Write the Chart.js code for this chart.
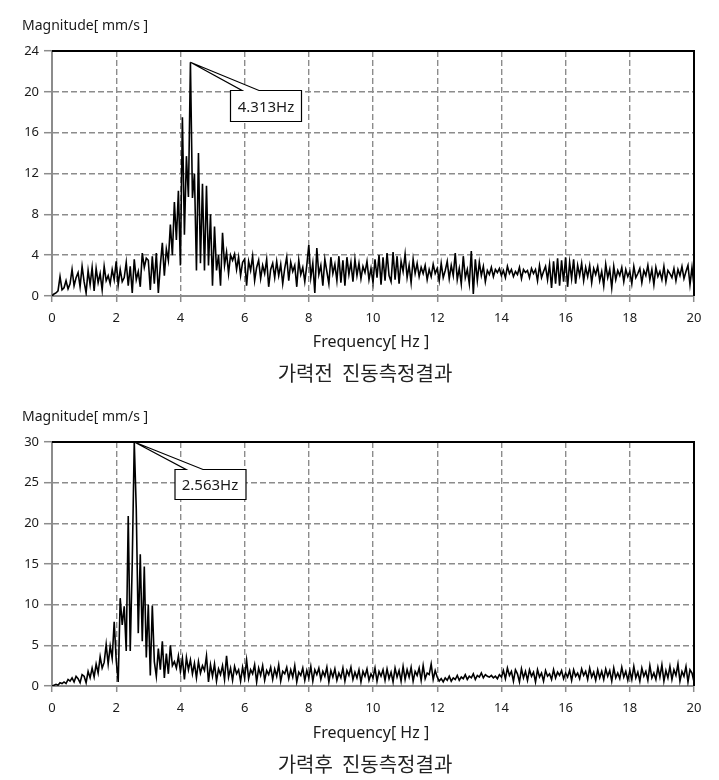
<!DOCTYPE html>
<html>
<head>
<meta charset="utf-8">
<script src="https://cdn.jsdelivr.net/npm/chart.js@4.4.1/dist/chart.umd.min.js"></script>
<style>
  html,body{margin:0;padding:0;background:#fff;}
  #wrap{position:relative;width:719px;height:780px;overflow:hidden;}
  canvas{position:absolute;left:0;}
  .t{position:absolute;white-space:nowrap;color:#1a1a1a;font-family:"Noto Sans","Open Sans",sans-serif;line-height:1;}
  .mag{font-size:14px;transform:translateY(-50%);}
  .freq{font-size:16px;transform:translate(-50%,-50%);}
  .cap{font-family:"Noto Sans CJK KR","Noto Sans",sans-serif;font-size:20px;transform:translate(-50%,-50%);color:#222;}
  .call{font-size:15px;transform:translate(-50%,-50%);}
</style>
</head>
<body>
<div id="wrap">
  <canvas id="c1" width="719" height="390" style="top:0"></canvas>
  <canvas id="c2" width="719" height="390" style="top:390px"></canvas>
  <div class="t mag" style="left:22px;top:25px">Magnitude[ mm/s ]</div>
  <div class="t freq" style="left:371px;top:341px">Frequency[ Hz ]</div>
  <div class="t cap" style="left:365px;top:373px">가력전&nbsp; 진동측정결과</div>
  <div class="t call" style="left:266px;top:106px">4.313Hz</div>
  <div class="t mag" style="left:22px;top:416px">Magnitude[ mm/s ]</div>
  <div class="t freq" style="left:371px;top:732px">Frequency[ Hz ]</div>
  <div class="t cap" style="left:365px;top:764px">가력후&nbsp; 진동측정결과</div>
  <div class="t call" style="left:210px;top:484px">2.563Hz</div>
</div>
<script>
// ---- data (frequency resolution 1/16 Hz, 0..20 Hz) ----
const freqStep = 0.0625;
const xTicks = [0, 2, 4, 6, 8, 10, 12, 14, 16, 18, 20];
const yTicksBefore = [0, 4, 8, 12, 16, 20, 24];
const yTicksAfter = [0, 5, 10, 15, 20, 25, 30];
const peakBefore = 4.313;
const peakAfter = 2.563;

const magBefore = [
  0, 0.2, 0.3, 0.5, 1.9, 0.6, 0.8, 1.5, 0.7, 1.2, 2.6, 1.0, 1.8, 2.3, 0.9, 2.9,
  1.4, 0.3, 2.5, 1.1, 2.8, 0.5, 2.7, 1.3, 2.2, 0.6, 2.9, 1.5, 2.0, 1.2, 2.6, 1.6,
  3.4, 1.1, 2.6, 1.4, 1.8, 3.3, 1.0, 2.9, 0.3, 3.6, 1.6, 2.4, 0.9, 4.2, 2.8, 3.7,
  3.5, 0.6, 3.9, 1.2, 4.2, 0.3, 3.0, 5.2, 2.0, 4.6, 3.5, 7.0, 4.0, 9.2, 5.5, 10.3,
  3.0, 17.5, 6.0, 13.7, 9.7, 22.9, 9.6, 12.0, 2.5, 14.0, 3.2, 11.0, 2.5, 10.8, 3.0, 8.0,
  1.0, 6.8, 2.5, 4.0, 1.0, 6.2, 3.0, 4.3, 2.2, 4.0, 3.5, 4.1, 2.6, 3.8, 2.0, 3.3,
  3.6, 1.0, 3.4, 2.5, 3.9, 1.5, 2.8, 3.5, 1.7, 3.0, 2.2, 3.6, 0.9, 2.6, 3.2, 1.8,
  3.4, 2.0, 3.1, 1.2, 2.7, 3.8, 1.5, 3.3, 2.4, 3.0, 0.9, 3.5, 2.1, 2.8, 1.4, 3.0,
  5.0, 1.8, 3.2, 0.3, 4.7, 2.1, 3.0, 1.0, 3.6, 2.4, 1.2, 3.8, 2.2, 3.1, 1.5, 3.9,
  1.3, 3.5, 1.0, 3.8, 2.1, 3.3, 1.4, 3.6, 2.0, 3.2, 1.7, 2.9, 2.3, 3.4, 1.6, 2.7,
  1.3, 3.6, 1.8, 4.0, 1.1, 3.8, 1.5, 4.2, 2.0, 1.4, 4.3, 1.6, 3.9, 1.2, 3.4, 2.4,
  4.1, 1.8, 3.0, 1.3, 3.6, 2.2, 3.2, 1.9, 2.8, 2.2, 3.0, 1.6, 2.6, 1.9, 3.1, 2.2,
  2.7, 1.5, 3.2, 1.8, 2.5, 3.4, 1.7, 3.0, 2.0, 4.2, 1.6, 2.7, 1.2, 3.9, 1.8, 2.6,
  1.2, 4.4, 0.2, 3.6, 1.5, 3.3, 2.0, 2.9, 1.4, 2.5, 2.1, 2.8, 1.9, 2.6, 2.3, 2.7,
  2.0, 2.5, 1.8, 2.9, 2.2, 2.6, 1.9, 2.4, 2.1, 2.8, 1.7, 2.6, 2.3, 2.5, 1.8, 2.7,
  2.2, 2.6, 1.5, 3.0, 1.8, 2.4, 2.9, 1.6, 3.1, 0.8, 3.4, 1.2, 3.7, 1.0, 3.5, 1.4,
  3.8, 0.9, 3.3, 1.7, 3.6, 1.2, 3.0, 2.0, 3.2, 1.5, 2.8, 1.9, 3.0, 1.3, 2.7, 2.1,
  2.9, 1.5, 2.4, 1.0, 3.1, 1.8, 2.6, 0.8, 2.9, 1.6, 2.5, 2.0, 2.8, 1.4, 2.6, 1.9,
  2.4, 1.2, 2.9, 1.8, 2.2, 2.7, 1.3, 2.5, 2.0, 3.0, 1.6, 2.6, 1.1, 2.8, 1.9, 2.4,
  1.6, 2.9, 1.4, 2.5, 2.2, 1.8, 2.7, 1.5, 2.6, 2.0, 2.9, 1.7, 2.4, 3.0, 1.1, 2.8,
  1.0
];

const magAfter = [
  0, 0.1, 0.2, 0.1, 0.4, 0.3, 0.5, 0.3, 0.8, 0.6, 1.0, 0.5, 1.2, 0.9, 0.4, 1.4,
  1.2, 0.4, 1.8, 1.0, 2.2, 1.1, 2.7, 1.6, 3.6, 2.2, 2.9, 5.1, 2.7, 4.9, 3.4, 7.9,
  3.2, 0.5, 10.8, 7.5, 9.8, 4.3, 20.9, 4.3, 15.2, 30, 21.8, 6.5, 16.2, 5.5, 14.7, 3.5,
  10.0, 1.3, 9.9, 3.0, 1.2, 4.6, 2.0, 5.5, 1.0, 4.0, 1.5, 5.0, 2.5, 3.0, 2.2, 3.7,
  1.8, 3.4, 0.8, 3.5, 2.0, 3.2, 1.5, 2.8, 1.0, 3.0, 1.6, 2.5, 1.9, 3.7, 0.5, 2.6,
  1.2, 2.7, 0.6, 2.1, 1.4, 2.5, 0.8, 3.7, 1.1, 2.2, 0.7, 2.4, 1.5, 2.0, 0.6, 2.3,
  1.0, 3.2, 0.9, 2.0, 1.5, 2.6, 0.5, 2.2, 1.3, 2.5, 0.7, 1.9, 1.4, 2.3, 0.8, 2.1,
  1.2, 2.6, 0.6, 1.8, 1.5, 2.3, 0.9, 2.0, 1.1, 2.5, 0.5, 1.7, 1.3, 2.2, 0.7, 1.9,
  1.0, 2.4, 0.6, 2.0, 1.4, 2.2, 0.8, 1.8, 1.2, 2.3, 0.5, 1.9, 1.1, 2.1, 0.7, 1.6,
  1.0, 2.2, 0.6, 1.9, 1.3, 2.3, 0.8, 1.7, 1.0, 2.0, 0.5, 1.8, 1.2, 2.1, 0.7, 1.5,
  1.0, 2.2, 0.6, 1.8, 1.2, 2.0, 0.7, 2.1, 0.9, 1.7, 0.5, 2.2, 1.1, 1.9, 0.6, 2.4,
  0.8, 2.0, 1.1, 2.3, 0.6, 1.8, 1.3, 2.2, 0.7, 2.5, 0.9, 1.6, 1.4, 2.7, 0.8, 1.9,
  1.1, 0.6, 0.9, 0.5, 1.0, 0.7, 1.2, 0.6, 1.0, 0.8, 1.3, 0.7, 1.1, 0.9, 1.4, 0.8,
  1.2, 1.0, 1.5, 0.8, 1.3, 1.1, 1.6, 1.0, 1.4, 1.2, 1.1, 1.3, 1.0, 1.2, 0.9, 1.4,
  1.1, 1.9, 0.9, 2.2, 1.3, 1.8, 0.6, 2.0, 1.5, 0.5, 2.1, 1.0, 1.8, 0.7, 2.0, 1.2,
  1.7, 0.5, 2.0, 1.1, 1.6, 0.6, 1.9, 1.2, 1.5, 0.8, 2.0, 1.0, 1.7, 1.3, 1.9, 0.9,
  1.6, 1.1, 1.9, 0.7, 2.0, 1.2, 1.6, 0.9, 2.1, 1.3, 1.8, 0.8, 2.2, 1.1, 1.7, 0.7,
  2.0, 1.0, 1.8, 0.8, 2.1, 1.2, 1.9, 0.6, 2.2, 1.0, 1.6, 0.9, 2.3, 1.1, 1.8, 0.7,
  1.9, 0.8, 2.4, 1.0, 1.7, 0.6, 2.2, 1.2, 1.8, 0.7, 2.5, 1.0, 1.6, 0.8, 2.3, 1.1,
  2.6, 0.6, 1.9, 1.0, 2.4, 0.8, 2.0, 1.3, 2.7, 0.6, 1.8, 1.2, 2.4, 0.5, 2.0, 1.6,
  0.5
];

// ---- drawing ----
const GRID = '#8c8c8c';
const TEXT = '#1a1a1a';
const tickFont = {family: '"Noto Sans","Open Sans",sans-serif', size: 13};

function toPoints(mags) {
  return mags.map((v, i) => ({x: i * freqStep, y: v}));
}

function makeFramePlugin(peakF, peakV, box) {
  return {
    id: 'frame',
    afterDatasetsDraw(chart) {
      const {ctx, chartArea: a, scales} = chart;
      ctx.save();
      ctx.strokeStyle = '#000';
      ctx.lineWidth = 2;
      ctx.beginPath();
      ctx.moveTo(a.left, a.top);
      ctx.lineTo(a.right, a.top);
      ctx.lineTo(a.right, a.bottom);
      ctx.stroke();
      const tx = scales.x.getPixelForValue(peakF);
      const ty = scales.y.getPixelForValue(Math.min(peakV, scales.y.max));
      ctx.lineWidth = 1.2;
      ctx.fillStyle = '#fff';
      ctx.beginPath();
      ctx.moveTo(box.l, box.t);
      ctx.lineTo(box.w1, box.t);
      ctx.lineTo(tx, ty);
      ctx.lineTo(box.w2, box.t);
      ctx.lineTo(box.r, box.t);
      ctx.lineTo(box.r, box.b);
      ctx.lineTo(box.l, box.b);
      ctx.closePath();
      ctx.fill();
      ctx.stroke();
      ctx.restore();
    }
  };
}

function makeChart(id, mags, yTicks, padTop, peakF, box) {
  const yMax = yTicks[yTicks.length - 1];
  const peakIdx = Math.round(peakF / freqStep);
  return new Chart(document.getElementById(id), {
    type: 'line',
    data: {
      datasets: [{
        data: toPoints(mags),
        borderColor: '#000',
        borderWidth: 1.6,
        pointRadius: 0,
        tension: 0,
        fill: false
      }]
    },
    options: {
      responsive: false,
      animation: false,
      devicePixelRatio: 1,
      layout: {padding: {left: 0, right: 25, top: padTop, bottom: 0}},
      plugins: {legend: {display: false}, tooltip: {enabled: false}},
      scales: {
        x: {
          type: 'linear', min: 0, max: 20,
          afterBuildTicks(s) { s.ticks = xTicks.map(v => ({value: v})); },
          afterFit(s) { s.height = 390 - 296; },
          ticks: {color: TEXT, font: tickFont, padding: 8, maxRotation: 0},
          grid: {color: GRID, lineWidth: 1.4, drawTicks: true, tickLength: 6, tickColor: GRID, tickWidth: 1.5},
          border: {display: true, color: GRID, width: 2, dash: [6, 3]}
        },
        y: {
          min: 0, max: yMax,
          afterBuildTicks(s) { s.ticks = yTicks.map(v => ({value: v})); },
          afterFit(s) { s.width = 52; },
          ticks: {color: TEXT, font: tickFont, padding: 5},
          grid: {color: GRID, lineWidth: 1.4, drawTicks: true, tickLength: 8, tickColor: GRID, tickWidth: 1.5},
          border: {display: true, color: GRID, width: 2, dash: [6, 3]}
        }
      }
    },
    plugins: [makeFramePlugin(peakIdx * freqStep, mags[peakIdx], box)]
  });
}

makeChart('c1', magBefore, yTicksBefore, 51, peakBefore,
  {l: 230.5, r: 301.5, t: 90.5, b: 121.5, w1: 242, w2: 259});
makeChart('c2', magAfter, yTicksAfter, 52, peakAfter,
  {l: 175, r: 246, t: 79.5, b: 109.5, w1: 186, w2: 203});
</script>
</body>
</html>
